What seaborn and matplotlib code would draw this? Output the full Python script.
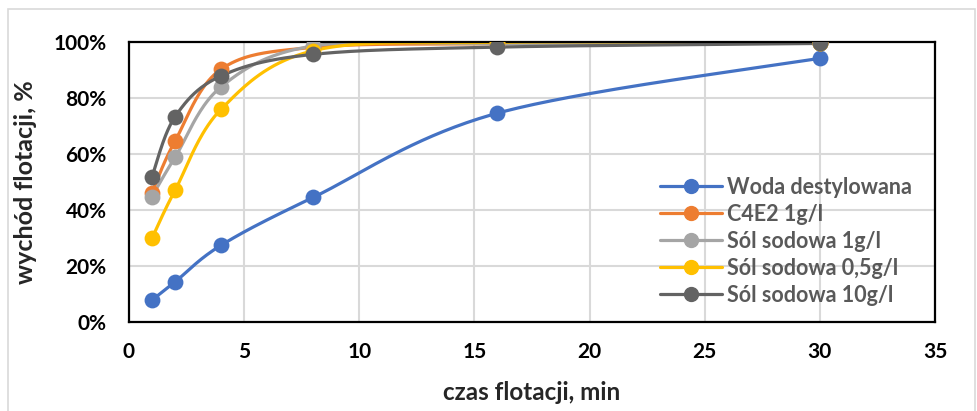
import numpy as np
import pandas as pd
import matplotlib.pyplot as plt
import seaborn as sns
from matplotlib.lines import Line2D
from matplotlib.patches import Rectangle

# flotation time, min
czas = [1, 2, 4, 8, 16, 30]

# flotation yield, %
woda = [7.9, 14.4, 27.5, 44.6, 74.7, 94.3]
c4e2 = [46.3, 64.7, 90.4, 98.2, 99.5, 99.7]
sol_1 = [44.9, 58.9, 84.1, 98.7, 99.5, 99.7]
sol_05 = [30.0, 47.1, 76.1, 97.0, 100.0, 99.8]
sol_10 = [52.0, 73.4, 88.0, 95.7, 98.3, 99.6]

labels = ['Woda destylowana', 'C4E2 1g/l', 'Sól sodowa 1g/l',
          'Sól sodowa 0,5g/l', 'Sól sodowa 10g/l']
colors = ['#4472C4', '#ED7D31', '#A5A5A5', '#FFC000', '#636363']
series = [woda, c4e2, sol_1, sol_05, sol_10]


def smooth(x, y, n=40):
    # Excel-like smoothed line: parametric Catmull-Rom through the points
    p = np.column_stack([x, y]).astype(float)
    p = np.vstack([p[0], p, p[-1]])
    out = []
    t = np.linspace(0, 1, n)[:, None]
    for i in range(1, len(p) - 2):
        p0, p1, p2, p3 = p[i - 1], p[i], p[i + 1], p[i + 2]
        c1 = p1 + (p2 - p0) / 6
        c2 = p2 - (p3 - p1) / 6
        seg = ((1 - t) ** 3) * p1 + 3 * ((1 - t) ** 2) * t * c1 + 3 * (1 - t) * t ** 2 * c2 + t ** 3 * p2
        out.append(seg if i == 1 else seg[1:])
    seg = np.vstack(out)
    return seg[:, 0], seg[:, 1]


sns.set_style('white')
plt.rcParams['font.family'] = ['Lato', 'DejaVu Sans']

fig = plt.figure(figsize=(9.77, 4.11), dpi=100)
ax = fig.add_axes([0.132, 0.216, 0.825, 0.681])
fig.patches.append(Rectangle((0.008, -0.02), 0.99, 0.998, transform=fig.transFigure,
                             fill=False, edgecolor='#D9D9D9', lw=1.2))

for vals, lab, col in zip(series, labels, colors):
    sx, sy = smooth(czas, vals)
    df = pd.DataFrame({'x': sx, 'y': sy})
    sns.lineplot(data=df, x='x', y='y', color=col, lw=2.3, sort=False, ax=ax,
                 solid_capstyle='round')
    sns.scatterplot(x=czas, y=vals, color=col, s=130, edgecolor=col, linewidth=0,
                    ax=ax, zorder=3)

ax.set_xlim(0, 35)
ax.set_ylim(0, 100)
ax.set_xticks(range(0, 36, 5))
ax.set_yticks(range(0, 101, 20))
ax.set_yticklabels([f'{v}%' for v in range(0, 101, 20)])
ax.grid(True, color='#D9D9D9', lw=1.5)
ax.set_axisbelow(True)
for s in ax.spines.values():
    s.set_color('black')
    s.set_linewidth(1.6)
ax.tick_params(axis='y', length=0, labelsize=15, pad=16, labelcolor='black')
ax.tick_params(axis='x', length=0, labelsize=15, pad=14, labelcolor='black')
for t in ax.get_xticklabels() + ax.get_yticklabels():
    t.set_fontweight('bold')

ax.set_xlabel('czas flotacji, min', fontsize=17.5, fontweight='bold', labelpad=14)
ax.set_ylabel('wychód flotacji, %', fontsize=18, fontweight='bold', labelpad=12)

handles = [Line2D([0], [0], color=c, lw=2.3, marker='o', markersize=10) for c in colors]
leg = ax.legend(handles, labels, loc='lower right', frameon=False, fontsize=15.5,
                handlelength=2.9, handletextpad=0.2, labelspacing=0.28,
                bbox_to_anchor=(0.995, -0.01))
for t in leg.get_texts():
    t.set_fontweight('bold')
    t.set_color('#595959')

fig.savefig('out.png', dpi=100)
